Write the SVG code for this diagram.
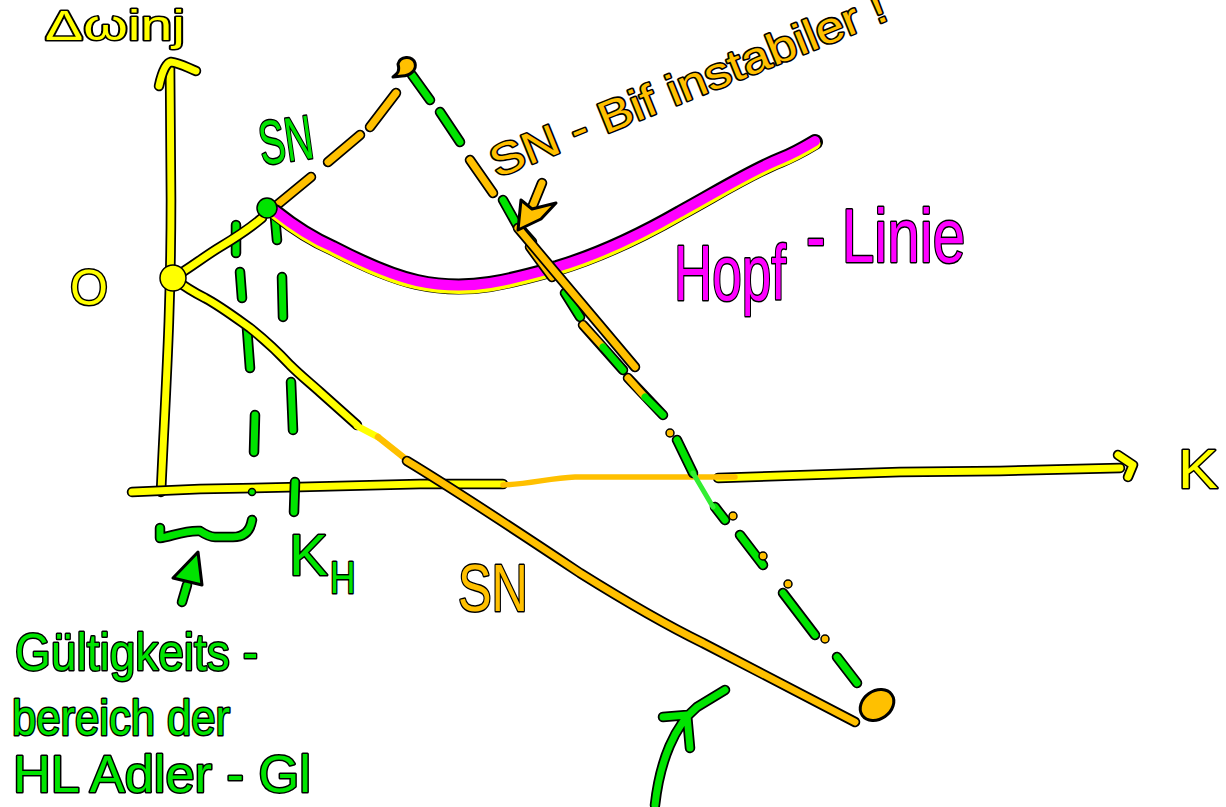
<svg xmlns="http://www.w3.org/2000/svg" xmlns:xlink="http://www.w3.org/1999/xlink" width="1226" height="807" viewBox="0 0 1226 807">
<style>
.ol{fill:none;stroke:#000;stroke-width:10.5;stroke-linecap:round;stroke-linejoin:round}
.olf{stroke:#000;stroke-width:3;stroke-linejoin:round}
.y{fill:none;stroke:#ffff00;stroke-width:7;stroke-linecap:round;stroke-linejoin:round}
.o{fill:none;stroke:#ffc000;stroke-width:7;stroke-linecap:round;stroke-linejoin:round}
.g{fill:none;stroke:#00e400;stroke-width:7;stroke-linecap:round;stroke-linejoin:round}
.lg{fill:none;stroke:#33ee33;stroke-width:5;stroke-linecap:round}
.t{font-family:"Liberation Sans",Arial,sans-serif;paint-order:stroke;stroke:#000;stroke-width:3;stroke-linejoin:round}
.ty{fill:#ffff00}.to{fill:#ffc000}.tg{fill:#00e400}.tm{fill:#ff00ff}
</style>
<defs>
<path id="vax" d="M161,492 C165,400 171,320 171,200 L170,66"/>
<path id="vah" d="M159,86 C162,72 166,63 171,62 C180,63 188,68 196,71"/>
<path id="hax1" d="M132,492 L200,489 L300,487 L420,484 L503,484"/>
<path id="hax2" d="M718,478 L900,472 L1000,471 L1120,468"/>
<path id="hah" d="M1118,455 L1133,465 L1128,477"/>
<path id="up1" d="M173,278 C190,268 205,256 220,247 C235,238 250,228 262,218"/>
<path id="lo1" d="M173,278 C185,287 195,293 205,298 C220,306 236,318 250,328 C265,340 278,352 290,365 C300,375 310,383 320,392 L357,425"/>
<path id="lo2" d="M407,461 C450,487 520,533 580,573 C620,598 660,622 703,643 L855,722"/>
<path id="hopf" d="M275,212 C290,224 310,238 333,248 C360,262 390,276 417,282 C440,287 465,288 490,284 C515,280 535,274 557,268 C600,255 640,236 680,213 C715,194 750,172 780,160 C795,154 805,148 815,142"/>
</defs>

<g id="axes">
<use href="#vax" class="ol"/><use href="#vax" class="y"/>
<use href="#vah" class="ol"/><use href="#vah" class="y"/>
<use href="#hax1" class="ol"/><use href="#hax1" class="y"/>
<use href="#hax2" class="ol"/><use href="#hax2" class="y"/>
<use href="#hah" class="ol"/><use href="#hah" class="y"/>
<path d="M503,485 C530,484 550,478 575,477 L735,477" fill="none" stroke="#ffc000" stroke-width="5.5" stroke-linecap="round"/>
</g>

<g id="validity-marks">
<path class="ol" d="M236,225 L236,253 M240,272 L242,298 M247,328 L250,368 M255,415 L254,452 M275,217 L277,240 M282,277 L283,317 M291,382 L293,430 M295,482 L294,512"/>
<path class="g" d="M236,225 L236,253 M240,272 L242,298 M247,328 L250,368 M255,415 L254,452 M275,217 L277,240 M282,277 L283,317 M291,382 L293,430 M295,482 L294,512"/>
<circle cx="252" cy="492" r="3.5" fill="#00e400" stroke="#000" stroke-width="1.5"/>
</g>

<g id="sn-upper">
<use href="#up1" class="ol"/><use href="#up1" class="y"/>
<path class="ol" d="M277,205 L311,177 M328,162 L360,135 M370,127 L396,93"/>
<path class="o" d="M277,205 L311,177 M328,162 L360,135 M370,127 L396,93"/>
</g>

<g id="sn-lower">
<use href="#lo1" class="ol"/><use href="#lo1" class="y"/>
<path d="M357,426 L378,437" stroke="#ffff00" stroke-width="6.5" stroke-linecap="round"/>
<path d="M378,437 L407,460" stroke="#ffc000" stroke-width="6.5" stroke-linecap="round"/>
<use href="#lo2" class="ol"/><use href="#lo2" class="o"/>
</g>

<g id="hopf-line">
<use href="#hopf" style="fill:none;stroke:#000;stroke-width:16;stroke-linecap:round"/>
<use href="#hopf" transform="translate(0,2)" style="fill:none;stroke:#ffff00;stroke-width:11;stroke-linecap:round"/>
<use href="#hopf" transform="translate(0,-1)" style="fill:none;stroke:#ff00ff;stroke-width:10;stroke-linecap:round"/>
</g>

<g id="sn-dashed">
<path class="ol" d="M412,75 L430,100 M440,112 L460,142 M470,160 L493,193 M503,200 L517,225 L532,242 M530,247 L552,277 M565,293 L580,317 M583,325 L623,370 M628,378 L663,415 M677,440 L693,473 M715,507 L725,520 M740,535 L763,565 M783,593 L815,635 M837,657 L857,683"/>
<path class="g" d="M412,75 L430,100 M440,112 L460,142 M503,200 L517,225 L532,242 M565,293 L580,317 M677,440 L693,473 M715,507 L725,520 M740,535 L763,565 M783,593 L815,635 M837,657 L857,683"/>
<path class="o" d="M470,160 L493,193 M530,247 L552,277 M583,325 L603,347 M628,378 L645,397"/>
<path class="g" d="M603,347 L623,370 M645,397 L663,415"/>
<path class="lg" d="M693,473 L713,507"/>
<g fill="#ffc000" stroke="#000" stroke-width="1.5">
<circle cx="670" cy="433" r="4"/><circle cx="733" cy="516" r="4"/><circle cx="763" cy="556" r="4"/><circle cx="788" cy="584" r="4"/><circle cx="825" cy="639" r="4"/>
</g>
</g>

<g id="sn-bif-arrow">
<path class="ol" d="M518,228 L635,367 M542,183 L531,210"/>
<path class="o" d="M518,228 L635,367 M542,183 L531,210"/>
<path d="M518,230 L521,200 L532,209 L556,203 L541,219 Z" fill="#ffc000" class="olf"/>
</g>

<g id="node-origin"><circle cx="173" cy="278" r="13" fill="#ffff00" stroke="#000" stroke-width="1.5"/></g>
<g id="node-sn"><circle cx="267" cy="208" r="10" fill="#00e400" stroke="#000" stroke-width="1.5"/></g>
<g id="node-peak"><path d="M393,77 C398,73 400,71 398,64 C400,56 412,55 415,63 C417,70 410,76 402,76 Z" fill="#ffc000" class="olf"/></g>
<g id="node-end"><ellipse cx="877" cy="705" rx="18" ry="14" transform="rotate(-35 877 705)" fill="#ffc000" class="olf"/></g>

<g id="range-brace">
<path class="ol" d="M160,528 L160,538 C170,537 185,530 200,531 C206,535 210,537 215,537 L233,537 C243,537 250,532 252,520"/>
<path class="g" d="M160,528 L160,538 C170,537 185,530 200,531 C206,535 210,537 215,537 L233,537 C243,537 250,532 252,520"/>
<path class="ol" d="M187,585 L182,602"/><path class="g" d="M187,585 L182,602"/>
<path d="M173,578 L198,552 L202,585 Z" fill="#00e400" class="olf"/>
</g>

<g id="bottom-arrow">
<path class="ol" d="M655,805 C660,760 675,725 697,707 L725,690 M663,717 L687,715 L690,748"/>
<path class="g" d="M655,805 C660,760 675,725 697,707 L725,690 M663,717 L687,715 L690,748"/>
</g>

<g id="labels">
<text class="t ty" x="45" y="40" font-size="42" textLength="140" lengthAdjust="spacingAndGlyphs">Δωinj</text>
<text class="t ty" x="70" y="305" font-size="50" textLength="38" lengthAdjust="spacingAndGlyphs">O</text>
<text class="t ty" x="1178" y="488" font-size="56" textLength="40" lengthAdjust="spacingAndGlyphs">K</text>
<text class="t tg" x="262" y="165" font-size="62" textLength="54" lengthAdjust="spacingAndGlyphs" transform="rotate(-8 262 165)">SN</text>
<text class="t to" x="497" y="178" font-size="44" textLength="424" lengthAdjust="spacingAndGlyphs" transform="rotate(-22 497 178)">SN - Bif instabiler !</text>
<text class="t tm" font-size="78" transform="translate(674,300) scale(0.68,1)">Hopf</text>
<text class="t tm" font-size="76" transform="translate(806,262) scale(0.77,1)">- Linie</text>
<text class="t tg" x="289" y="575" font-size="58">K</text>
<text class="t tg" x="330" y="593" font-size="44" transform="translate(330,593) scale(0.8,1) translate(-330,-593)">H</text>
<text class="t to" x="458" y="611" font-size="66" textLength="70" lengthAdjust="spacingAndGlyphs">SN</text>
<text class="t tg" x="15" y="670" font-size="52" textLength="243" lengthAdjust="spacingAndGlyphs">Gültigkeits -</text>
<text class="t tg" x="12" y="735" font-size="50" textLength="218" lengthAdjust="spacingAndGlyphs">bereich der</text>
<text class="t tg" x="13" y="792" font-size="52" textLength="298" lengthAdjust="spacingAndGlyphs">HL Adler - Gl</text>
</g>
</svg>
